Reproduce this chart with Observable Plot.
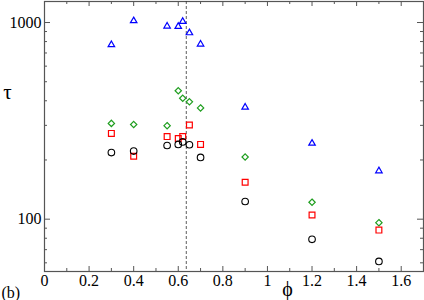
<!DOCTYPE html>
<html>
<head>
<meta charset="utf-8">
<script src="https://cdn.jsdelivr.net/npm/d3@7"></script>
<script src="https://cdn.jsdelivr.net/npm/@observablehq/plot@0.6"></script>
<style>
  html, body { margin: 0; padding: 0; background: #fff; }
  #chart svg { display: block; }
  #chart svg text { font-family: "Liberation Serif", "DejaVu Serif", serif !important; }
</style>
</head>
<body>
<div id="chart"></div>
<script>
// φ values shared by all four series
const phi = [0.3, 0.4, 0.55, 0.6, 0.62, 0.65, 0.7, 0.9, 1.2, 1.5];
// τ values per series
const tauTriangle = [771, 1020, 958, 955, 1012, 886, 776, 371, 243, 176];
const tauDiamond  = [307, 303, 299, 450, 412, 395, 368, 207, 122, 96];
const tauSquare   = [273, 209, 263, 257, 263, 301, 240, 154, 105, 88];
const tauCircle   = [218, 222, 237, 240, 247, 239, 206, 123, 79, 61];
// dashed reference line
const phiC = [0.636];
// ticks
const xMajor = [0, 0.2, 0.4, 0.6, 0.8, 1.0, 1.2, 1.4, 1.6];
const xMinor = [0.1, 0.3, 0.5, 0.7, 0.9, 1.1, 1.3, 1.5];
const yMajor = [100, 1000];
const yMinor = [60, 70, 80, 90, 200, 300, 400, 500, 600, 700, 800, 900];

const W = 424, H = 300, mL = 44, mR = 1, mT = 1, mB = 29;
const fw = W - mL - mR, fh = H - mT - mB;

const rows = ys => phi.map((p, i) => ({phi: p, tau: ys[i]}));
const frameColor = "#555";
const serif = "'Liberation Serif', 'DejaVu Serif', serif";

const chart = Plot.plot({
  width: W, height: H,
  marginLeft: mL, marginRight: mR, marginTop: mT, marginBottom: mB,
  style: {background: "#fff", fontFamily: serif, color: "#000"},
  x: {domain: [0, 1.7], axis: null},
  y: {type: "log", domain: [54.2, 1279], axis: null},
  marks: [
    // inside ticks
    Plot.ruleX(xMajor, {x: d => d, insetTop: fh - 5, stroke: frameColor}),
    Plot.ruleX(xMinor, {x: d => d, insetTop: fh - 3, stroke: frameColor}),
    Plot.ruleX(xMajor, {x: d => d, insetBottom: fh - 5, stroke: frameColor}),
    Plot.ruleX(xMinor, {x: d => d, insetBottom: fh - 3, stroke: frameColor}),
    Plot.ruleY(yMajor, {y: d => d, insetRight: fw - 6, stroke: frameColor}),
    Plot.ruleY(yMinor, {y: d => d, insetRight: fw - 3, stroke: frameColor}),
    Plot.ruleY(yMajor, {y: d => d, insetLeft: fw - 6, stroke: frameColor}),
    Plot.ruleY(yMinor, {y: d => d, insetLeft: fw - 3, stroke: frameColor}),
    Plot.frame({stroke: frameColor, strokeWidth: 1.2}),
    Plot.axisX(xMajor, {anchor: "bottom", tickSize: 0, tickPadding: 3, fontSize: 16, fontFamily: serif, tickFormat: d => String(d), label: null}),
    Plot.axisY(yMajor, {anchor: "left", tickSize: 0, tickPadding: 3, fontSize: 16, fontFamily: serif, tickFormat: d => String(d), label: null}),
    Plot.ruleX(phiC, {x: d => d, stroke: "#333", strokeWidth: 0.8, strokeDasharray: "3,2"}),
    Plot.dot(rows(tauTriangle), {x: "phi", y: "tau", symbol: "triangle2", r: 3.1, stroke: "#0000ff", fill: "none", strokeWidth: 1.2}),
    Plot.dot(rows(tauDiamond), {x: "phi", y: "tau", symbol: "diamond2", r: 2.85, stroke: "#1f9e1f", fill: "none", strokeWidth: 1.2}),
    Plot.dot(rows(tauSquare), {x: "phi", y: "tau", symbol: "square2", r: 3.7, stroke: "#ff0000", fill: "none", strokeWidth: 1.2}),
    Plot.dot(rows(tauCircle), {x: "phi", y: "tau", symbol: "circle", r: 3.3, stroke: "#000", fill: "none", strokeWidth: 1.1}),
    Plot.text(["τ"], {text: d => d, frameAnchor: "top-left", dx: -37, dy: 91, fontSize: 21, fontFamily: serif, textAnchor: "middle", lineAnchor: "middle"}),
    Plot.text(["ϕ"], {text: d => d, frameAnchor: "bottom-left", dx: 243, dy: 18, fontSize: 20, fontFamily: serif, textAnchor: "middle", lineAnchor: "middle"}),
    Plot.text(["(b)"], {text: d => d, frameAnchor: "bottom-left", dx: -43, dy: 21, fontSize: 16, fontFamily: serif, textAnchor: "start", lineAnchor: "middle"})
  ]
});
document.getElementById("chart").appendChild(chart);
</script>
</body>
</html>
